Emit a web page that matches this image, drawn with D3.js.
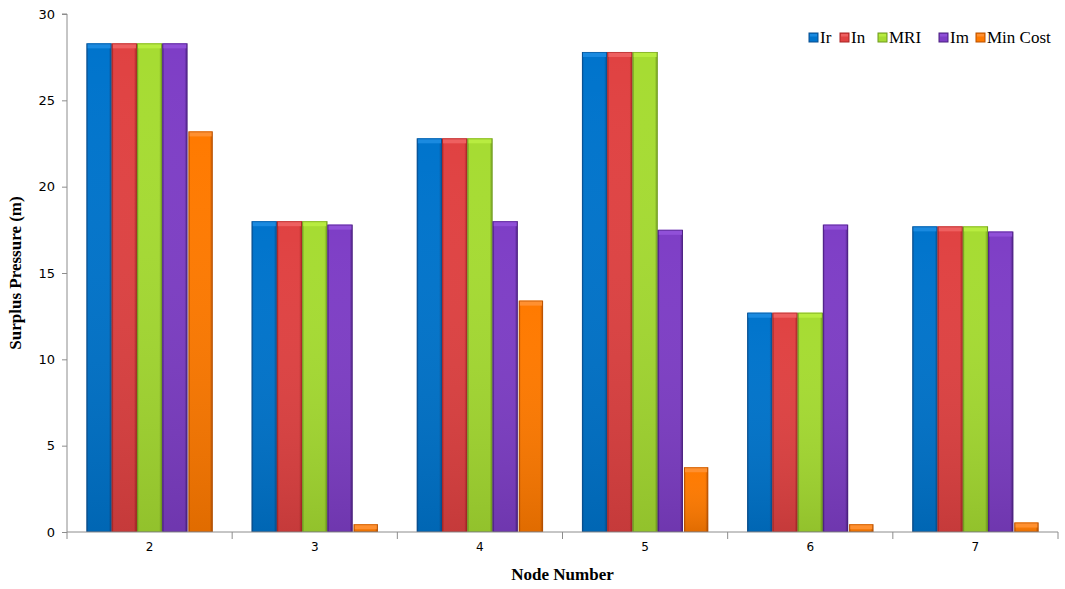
<!DOCTYPE html>
<html><head><meta charset="utf-8">
<script src="https://cdn.jsdelivr.net/npm/d3@7"></script>
<style>body{margin:0;background:#fff}svg{display:block}</style>
</head><body>
<script>
const categories = ["2","3","4","5","6","7"];
const seriesNames = ["Ir","In","MRI","Im","Min Cost"];
const Ir = [28.3,18.0,22.8,27.8,12.7,17.7];
const In = [28.3,18.0,22.8,27.8,12.7,17.7];
const MRI = [28.3,18.0,22.8,27.8,12.7,17.7];
const Im = [28.3,17.8,18.0,17.5,17.8,17.4];
const MinCost = [23.2,0.45,13.4,3.75,0.45,0.55];
const yTicks = [0,5,10,15,20,25,30];
const colors = [
  {top:"#1a8ae0", mid:"#0074cc", bot:"#0068b8", edge:"#0a4f8f"},
  {top:"#ee6060", mid:"#e04242", bot:"#d83838", edge:"#a82424"},
  {top:"#b8ec40", mid:"#a6dc32", bot:"#8ab82a", edge:"#6f9a1e"},
  {top:"#9050d8", mid:"#7e3ec6", bot:"#6a30a8", edge:"#4b2080"},
  {top:"#ff9030", mid:"#ff7a00", bot:"#f07000", edge:"#b85000"}
];
const data = [Ir,In,MRI,Im,MinCost];

const W=1065,H=589;
const m={l:67,r:7,t:14,b:57};
const svg=d3.select("body").append("svg").attr("width",W).attr("height",H);
const defs=svg.append("defs");
colors.forEach((c,i)=>{
  const g=defs.append("linearGradient").attr("id","g"+i).attr("x1",0).attr("x2",1).attr("y1",0).attr("y2",0);
  g.append("stop").attr("offset","0%").attr("stop-color",c.edge);
  g.append("stop").attr("offset","8%").attr("stop-color",c.mid);
  g.append("stop").attr("offset","88%").attr("stop-color",c.mid);
  g.append("stop").attr("offset","100%").attr("stop-color",c.edge);
  const v=defs.append("linearGradient").attr("id","v"+i).attr("x1",0).attr("x2",0).attr("y1",0).attr("y2",1);
  v.append("stop").attr("offset","0%").attr("stop-color","#fff").attr("stop-opacity",0.0);
  v.append("stop").attr("offset","100%").attr("stop-color","#000").attr("stop-opacity",0.12);
});

const x0=d3.scaleBand().domain(categories).range([m.l,W-m.r]).paddingInner(0).paddingOuter(0);
const x1=d3.scaleBand().domain(seriesNames).range([0,x0.bandwidth()]).paddingInner(0).paddingOuter(0.77);
const y=d3.scaleLinear().domain([0,30]).range([H-m.b,m.t]);

// bars
categories.forEach((cat,ci)=>{
  seriesNames.forEach((s,si)=>{
    const v=data[si][ci];
    const bx=x0(cat)+x1(s)+(si===4?1:0), bw=x1.bandwidth()-(si===4?1:0);
    const by=y(v), bh=y(0)-y(v);
    const g=svg.append("g");
    g.append("rect").attr("x",bx).attr("y",by).attr("width",bw).attr("height",bh).attr("fill","url(#g"+si+")");
    g.append("rect").attr("x",bx).attr("y",by).attr("width",bw).attr("height",bh).attr("fill","url(#v"+si+")");
    const cap=Math.min(5,bh);
    g.append("rect").attr("x",bx+1).attr("y",by).attr("width",bw-2).attr("height",cap).attr("fill",colors[si].top);
    g.append("rect").attr("x",bx+0.5).attr("y",by+0.5).attr("width",bw-1).attr("height",Math.max(0,bh-1)).attr("fill","none").attr("stroke",colors[si].edge).attr("stroke-width",1).attr("stroke-opacity",0.6);
  });
});

// axes
const axCol="#8c8c8c";
const yAxis=svg.append("g").attr("transform",`translate(${m.l},0)`)
  .call(d3.axisLeft(y).tickValues(yTicks).tickSize(5).tickPadding(7));
yAxis.selectAll("path,line").attr("stroke",axCol);
yAxis.select(".domain").attr("d",`M-5,${y(30)}H0V${y(0)}`);
yAxis.selectAll("text").attr("font-family","DejaVu Sans, Verdana, sans-serif").attr("font-size",13).attr("fill","#000");

const xAxis=svg.append("g").attr("transform",`translate(0,${y(0)})`)
  .call(d3.axisBottom(x0).tickSize(0).tickPadding(10));
xAxis.select(".domain").attr("stroke",axCol).attr("d",`M${m.l},0H${W-m.r}`);
xAxis.selectAll("text").attr("font-family","DejaVu Sans, Verdana, sans-serif").attr("font-size",12).attr("fill","#000");
const bounds=categories.map(c=>x0(c)).concat([x0(categories[categories.length-1])+x0.bandwidth()]);
xAxis.selectAll("line.bnd").data(bounds).enter().append("line").attr("class","bnd")
  .attr("x1",d=>d).attr("x2",d=>d).attr("y1",0).attr("y2",7).attr("stroke",axCol);

// titles
svg.append("text").attr("x",(m.l+W-m.r)/2).attr("y",580).attr("text-anchor","middle")
  .attr("font-family","Liberation Serif, Times New Roman, serif").attr("font-weight","bold").attr("font-size",17).text("Node Number");
svg.append("text").attr("transform",`translate(21,${(y(0)+y(30))/2}) rotate(-90)`).attr("text-anchor","middle")
  .attr("font-family","Liberation Serif, Times New Roman, serif").attr("font-weight","bold").attr("font-size",17).text("Surplus Pressure (m)");

// legend
const legX=[809,840,878,939,976];
seriesNames.forEach((s,i)=>{
  const g=svg.append("g").attr("transform",`translate(${legX[i]},33)`);
  g.append("rect").attr("width",9).attr("height",9).attr("fill",colors[i].mid).attr("stroke",colors[i].edge);
  g.append("rect").attr("x",1).attr("y",1).attr("width",7).attr("height",2.5).attr("fill",colors[i].top);
  g.append("text").attr("x",11).attr("y",10).attr("font-family","Liberation Serif, Times New Roman, serif")
    .attr("font-size",17).attr("fill","#000").text(s);
});
</script>
</body></html>
